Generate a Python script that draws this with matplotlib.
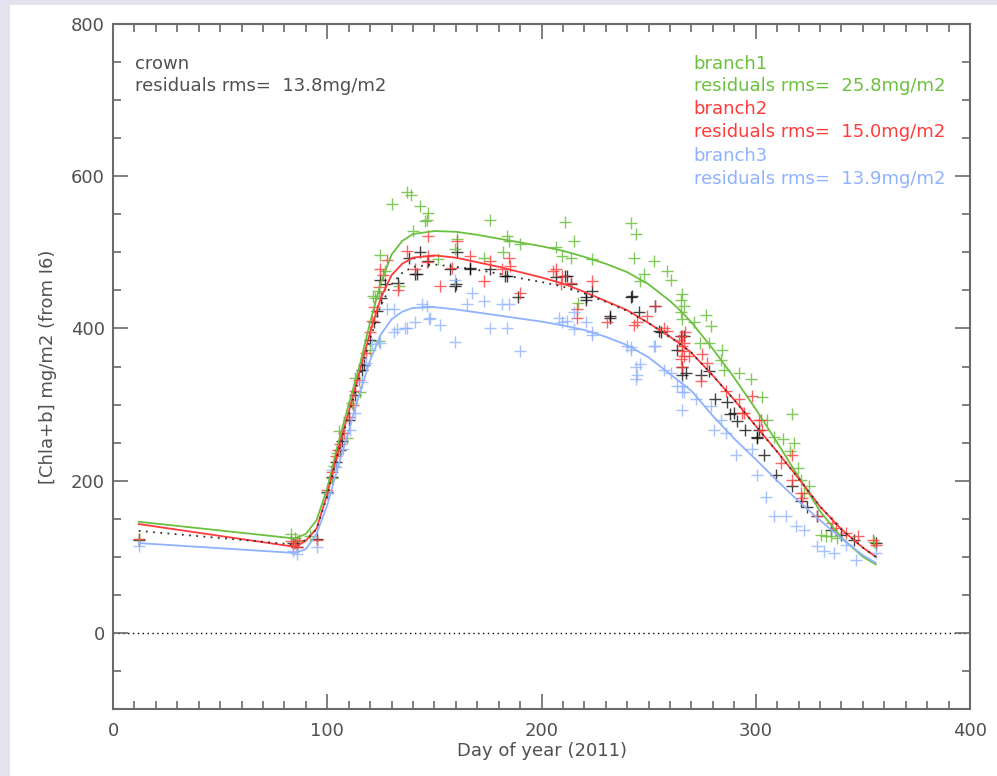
import matplotlib
matplotlib.use("Agg")
import matplotlib.pyplot as plt
from matplotlib.patches import Rectangle
from matplotlib.ticker import MultipleLocator

# ---------------- data ----------------
crown_day = [12, 84, 86, 95, 100, 102, 104, 106, 107, 110, 113, 116, 117, 120, 122, 123, 125, 127, 124.8,
             133, 138, 141, 142, 143.5, 147, 157.5, 159.8, 160, 160.6, 166.8, 166.8, 176, 183, 184, 189,
             207, 211, 212, 213.6, 220.6, 221, 223.7, 231.8, 232, 241.6, 242.4, 245.4, 253, 254.7, 255.6,
             263.4, 265, 266.4, 265.7, 265.7, 267.3, 274.3, 278, 281, 286.7, 288, 289.8, 291.4, 295,
             300.8, 300.8, 301.4, 303.7, 309.3, 317, 321, 324, 328.8, 335, 340, 346, 356]
crown_val = [122, 118, 113, 124, 185, 205, 225, 240, 252, 280, 312, 345, 352, 385, 408, 423, 440, 458, 464,
             460, 493, 471, 471, 500, 489, 478, 456, 458, 500, 478, 480, 478, 469, 469, 441,
             467, 469, 469, 458, 438, 441, 449, 416, 414, 441, 443, 421, 429, 396, 395,
             372, 390, 390, 350, 339, 342, 339, 344, 307, 303, 287, 289, 278, 267,
             256, 258, 267, 234, 208, 193, 173, 166, 153, 135, 128, 122, 118]

b1_day = [12, 83, 85, 86, 92, 100, 102, 103, 104.5, 105.3, 109, 111.5, 113, 115.4, 120, 121.5, 122.4, 124,
          124, 124.8, 127, 130, 133.6, 137, 139.3, 140, 143.5, 145.8, 146.6, 147, 151.9, 159.8, 160.6,
          173, 176, 182, 184, 184.6, 190, 207, 209.6, 211, 213.6, 215, 217, 223.7, 241.6, 243, 244,
          246, 248, 252.5, 258.7, 260.3, 265, 265, 265.7, 265.7, 266.4, 271, 274, 276.6, 278, 279,
          284.4, 284, 285, 292, 298, 303, 305.4, 308.4, 312.5, 316, 317, 318, 319.5, 321, 322.5,
          324.8, 330.4, 332.7, 335, 338, 355]
b1_val = [124, 130, 125, 121, 127, 184, 204, 219, 237, 265, 256, 302, 335, 316, 372, 443, 440, 383,
          449, 497, 475, 563, 456, 579, 575, 528, 561, 541, 543, 552, 491, 504, 517,
          493, 543, 500, 521, 515, 511, 507, 495, 540, 493, 515, 434, 491, 539, 493, 524,
          462, 471, 489, 475, 464, 438, 421, 445, 412, 429, 408, 381, 418, 381, 403,
          372, 359, 346, 342, 333, 310, 280, 258, 255, 239, 288, 250, 217, 201, 184,
          193, 129, 127, 127, 125, 120]

b2_day = [12, 83, 84, 85, 86, 87, 95, 100, 102, 104, 105, 106, 108, 110, 112, 113, 115, 118, 120, 121,
          122, 124, 124.8, 126, 128, 133, 137, 141, 146.6, 147, 147, 152.8, 158, 160.6, 166.8, 173,
          176, 181.6, 184.6, 185.5, 190, 205.6, 207, 209, 209.7, 213.6, 216.7, 216.7, 223.7, 230.7,
          243, 244.7, 249.4, 253, 257, 258.7, 264, 265, 265.7, 266.4, 265.7, 265.7, 266.4, 267,
          268.7, 265.7, 275, 277.4, 274.3, 286, 292, 293.8, 294.4, 298.4, 301.4, 302.3, 303,
          311.7, 317, 317, 321, 321.8, 328.8, 335.8, 337.4, 342, 347.5, 354.5, 356]
b2_val = [124, 121, 116, 118, 113, 122, 122, 188, 212, 233, 240, 248, 262, 283, 300, 318, 332, 368, 395, 410,
          428, 455, 478, 470, 490, 451, 502, 478, 487, 522, 495, 456, 480, 515, 495, 462,
          489, 478, 493, 482, 446, 475, 478, 458, 469, 460, 414, 425, 462, 408,
          405, 408, 416, 429, 401, 397, 385, 360, 390, 381, 370, 377, 364, 395,
          364, 350, 366, 355, 331, 318, 307, 289, 289, 311, 280, 280, 267,
          223, 234, 201, 184, 177, 153, 145, 138, 131, 127, 122, 116]

b3_day = [12, 84, 86, 95, 100.5, 102.2, 104, 107.5, 110.7, 113, 116, 118, 121, 124.8, 127.9, 131, 131,
          132.6, 136.4, 137, 141, 144.2, 146.6, 147.3, 148, 152.8, 159.8, 159.8, 165.3, 167.6, 173,
          176, 181.6, 184, 184.6, 190, 208, 209.7, 212, 215, 215, 220.6, 223.7, 223.7, 240, 241.6,
          241.6, 244, 244, 244.7, 246, 252.5, 253, 257, 260.3, 263.4, 265.7, 265.7, 266.4, 265.7,
          272, 279, 280.4, 283.6, 286, 290.7, 298.4, 300.8, 304.7, 308.4, 314, 318.7, 322.4,
          328.8, 331.8, 336.4, 342, 346.7, 356]
b3_val = [114, 108, 103, 113, 184, 214, 218, 241, 267, 289, 330, 355, 379, 381, 425, 425, 395,
          399, 401, 401, 408, 432, 429, 412, 414, 405, 382, 464, 432, 447, 436,
          401, 432, 401, 432, 371, 414, 408, 410, 421, 399, 408, 395, 392, 377, 372,
          375, 350, 333, 339, 353, 377, 377, 346, 342, 324, 324, 316, 316, 293,
          307, 298, 267, 280, 263, 234, 241, 208, 179, 153, 153, 140, 135,
          114, 107, 105, 116, 96, 105]

# fitted curves
fit1_day = [12, 85, 90, 95, 100, 105, 110, 115, 120, 125, 130, 135, 140, 150, 160, 170, 180, 190, 200,
            210, 220, 230, 240, 250, 260, 265, 270, 280, 290, 300, 310, 320, 330, 340, 350, 356]
fit1_val = [146, 124, 130, 148, 190, 248, 300, 350, 408, 460, 497, 515, 524, 528, 527, 523, 518, 513, 508,
            502, 494, 485, 474, 458, 436, 423, 408, 373, 335, 294, 250, 205, 160, 125, 100, 90]

fit2_day = [12, 85, 90, 95, 100, 105, 110, 115, 120, 125, 130, 135, 140, 150, 160, 170, 180, 190, 200,
            210, 220, 230, 240, 250, 260, 265, 270, 280, 290, 300, 310, 320, 330, 340, 350, 356]
fit2_val = [143, 113, 121, 137, 182, 240, 290, 342, 395, 440, 470, 485, 493, 496, 493, 487, 481, 474, 467,
            459, 448, 436, 424, 407, 389, 379, 368, 338, 306, 272, 238, 203, 166, 136, 112, 100]

fitc_day = [12, 85, 90, 95, 100, 105, 110, 115, 120, 125, 130, 135, 140, 150, 160, 170, 180, 190, 200,
            210, 220, 230, 240, 250, 260, 265, 270, 280, 290, 300, 310, 320, 330, 340, 350, 356]
fitc_val = [134, 116, 122, 136, 180, 236, 286, 336, 386, 430, 458, 473, 481, 484, 481, 477, 472, 466, 461,
            455, 446, 435, 423, 407, 389, 379, 368, 338, 306, 272, 238, 203, 166, 136, 112, 100]

fit3_day = [12, 85, 90, 95, 100, 105, 110, 115, 120, 125, 130, 135, 140, 150, 160, 170, 180, 190, 200,
            210, 220, 230, 240, 250, 260, 265, 270, 280, 290, 300, 310, 320, 330, 340, 350, 356]
fit3_val = [118, 105, 110, 130, 168, 218, 265, 314, 358, 392, 412, 422, 427, 428, 425, 421, 417, 413, 409,
            404, 398, 389, 378, 362, 340, 329, 318, 285, 255, 228, 200, 173, 148, 124, 102, 92]

rms_crown = 13.8
rms_b = [25.8, 15.0, 13.9]
names = ["branch1", "branch2", "branch3"]

# ---------------- style ----------------
GREEN = "#6cc040"
RED = "#ff3b3b"
BLUE = "#8fb2ff"
AX = "#6a6a6a"
TXT = "#505050"

plt.rcParams['font.family'] = ['DejaVu Sans']

fig = plt.figure(figsize=(9.97, 7.76), dpi=100)
fig.patch.set_facecolor("#e6e1ef")
bg = Rectangle((10 / 997, 0), 1, (776 - 5) / 776, transform=fig.transFigure,
               facecolor="white", edgecolor="none", zorder=-10)
fig.add_artist(bg)

ax = fig.add_axes([113 / 997, (776 - 709) / 776, (970 - 113) / 997, (709 - 24) / 776])
ax.set_zorder(5)
ax.set_facecolor("white")

ax.set_xlim(0, 400)
ax.set_ylim(-100, 800)

ax.axhline(0, color="black", linestyle=(0, (1, 2.5)), linewidth=1.0, zorder=1)

ms = 9
mew = 1.0
ax.plot(crown_day, crown_val, linestyle="none", marker="+", color="black", ms=ms, mew=mew, alpha=0.75, zorder=2)
ax.plot(b1_day, b1_val, linestyle="none", marker="+", color=GREEN, ms=ms, mew=mew, alpha=0.85, zorder=3)
ax.plot(b2_day, b2_val, linestyle="none", marker="+", color=RED, ms=ms, mew=mew, alpha=0.8, zorder=4)
ax.plot(b3_day, b3_val, linestyle="none", marker="+", color=BLUE, ms=ms, mew=mew, alpha=0.8, zorder=5)

ax.plot(fit1_day, fit1_val, color=GREEN, lw=1.3, zorder=6)
ax.plot(fit2_day, fit2_val, color=RED, lw=1.3, zorder=6)
ax.plot(fit3_day, fit3_val, color=BLUE, lw=1.3, zorder=6)
ax.plot(fitc_day, fitc_val, color="#333333", lw=1.3, linestyle=(0, (1, 3)), zorder=6)

# ticks
ax.xaxis.set_major_locator(MultipleLocator(100))
ax.xaxis.set_minor_locator(MultipleLocator(10))
ax.yaxis.set_major_locator(MultipleLocator(200))
ax.yaxis.set_minor_locator(MultipleLocator(50))
ax.tick_params(which="both", direction="in", top=True, right=True, color=AX, width=1.2)
ax.tick_params(which="major", length=11)
ax.tick_params(which="minor", length=6)
ax.tick_params(axis="x", which="major", pad=9, labelsize=13, labelcolor=TXT)
ax.tick_params(axis="y", which="major", pad=6, labelsize=13, labelcolor=TXT)
for s in ax.spines.values():
    s.set_color(AX)
    s.set_linewidth(1.5)

ax.set_xlabel("Day of year (2011)", fontsize=13, color=TXT, labelpad=2)
ax.set_ylabel("[Chla+b] mg/m2 (from I6)", fontsize=13, color=TXT, labelpad=10)

fs = 13
ax.text(10.3, 747, "crown", fontsize=fs, color=TXT, va="center", ha="left")
ax.text(10.3, 718, "residuals rms=  %.1fmg/m2" % rms_crown, fontsize=fs, color=TXT, va="center", ha="left")

cols = [GREEN, RED, BLUE]
ys = [748, 688, 627]
for name, r, c, y in zip(names, rms_b, cols, ys):
    ax.text(271, y, name, fontsize=fs, color=c, va="center", ha="left")
    ax.text(271, y - 30, "residuals rms=  %.1fmg/m2" % r, fontsize=fs, color=c, va="center", ha="left")

fig.savefig("out.png", dpi=100, facecolor=fig.get_facecolor())
